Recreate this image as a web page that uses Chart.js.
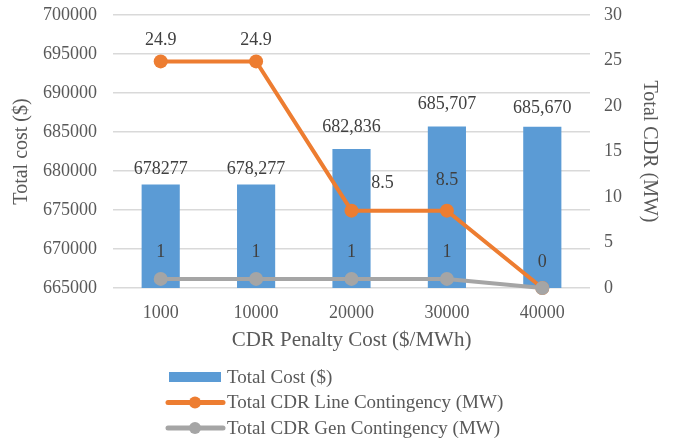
<!DOCTYPE html>
<html>
<head>
<meta charset="utf-8">
<script src="https://cdn.jsdelivr.net/npm/chart.js@4.4.0/dist/chart.umd.min.js"></script>
<style>
html,body{margin:0;padding:0;background:#fff;}
#wrap{width:683px;height:439px;position:relative;}
</style>
</head>
<body>
<div id="wrap"><canvas id="c" width="683" height="439"></canvas></div>
<script>
const categories = ['1000', '10000', '20000', '30000', '40000'];
const totalCost = [678277, 678277, 682836, 685707, 685670];
const totalCostLabels = ['678277', '678,277', '682,836', '685,707', '685,670'];
const cdrLine = [24.9, 24.9, 8.5, 8.5, 0];
const cdrLineLabels = ['24.9', '24.9', '8.5', '8.5', '0'];
const cdrGen = [1, 1, 1, 1, 0];
const cdrGenLabels = ['1', '1', '1', '1', ''];
const leftTicks = [665000, 670000, 675000, 680000, 685000, 690000, 695000, 700000];
const rightTicks = [0, 5, 10, 15, 20, 25, 30];

const FONT = '"Liberation Serif", "Times New Roman", Times, serif';
Chart.defaults.font.family = FONT;
const BLUE = '#5B9BD5', ORANGE = '#ED7D31', GRAY = '#A5A5A5';
const TXT = '#595959', LBL = '#404040';

// label offsets (style only)
const offBar = [[0,-15],[0,-15],[0,-22],[0,-22],[0,-19]];
const offLine = [[0,-21],[0,-21],[31,-27],[0,-30],[0,-26]];
const offGen = [[0,-27],[0,-27],[0,-27],[0,-27],[0,-27]];

const labelPlugin = {
  id: 'dataLabels',
  afterDatasetsDraw(chart) {
    const ctx = chart.ctx;
    ctx.save();
    ctx.font = '18px ' + FONT;
    ctx.fillStyle = LBL;
    ctx.textAlign = 'center';
    ctx.textBaseline = 'middle';
    const sets = [[0, totalCostLabels, offBar], [1, cdrLineLabels, offLine], [2, cdrGenLabels, offGen]];
    sets.forEach(([di, labels, offs]) => {
      const meta = chart.getDatasetMeta(di);
      meta.data.forEach((el, i) => {
        if (!labels[i]) return;
        ctx.fillText(labels[i], el.x + offs[i][0], el.y + offs[i][1]);
      });
    });
    ctx.restore();
  }
};

const legendPlugin = {
  id: 'customLegend',
  afterDraw(chart) {
    const ctx = chart.ctx;
    ctx.save();
    ctx.font = '19px ' + FONT;
    ctx.textBaseline = 'middle';
    ctx.textAlign = 'left';
    const x0 = 168, tx = 227;
    const rows = [377, 402.5, 428];
    const ds = chart.data.datasets;
    ctx.fillStyle = BLUE;
    ctx.fillRect(x0 + 1, rows[0] - 5, 52, 10);
    [[1, ORANGE], [2, GRAY]].forEach(([k, col]) => {
      const y = rows[k];
      ctx.strokeStyle = col;
      ctx.lineWidth = 5;
      ctx.lineCap = 'round';
      ctx.beginPath(); ctx.moveTo(x0, y); ctx.lineTo(x0 + 55, y); ctx.stroke();
      ctx.fillStyle = col;
      ctx.beginPath(); ctx.arc(x0 + 27, y, 6, 0, Math.PI * 2); ctx.fill();
    });
    ctx.fillStyle = TXT;
    ds.forEach((d, i) => ctx.fillText(d.label, tx, rows[i] + 1));
    ctx.restore();
  }
};

function fitV(w) {
  return function (s) { s.width = w; s.paddingTop = 0; s.paddingBottom = 0; };
}

new Chart(document.getElementById('c'), {
  type: 'bar',
  data: {
    labels: categories,
    datasets: [
      { type: 'bar', label: 'Total Cost ($)', data: totalCost, backgroundColor: BLUE, yAxisID: 'y', order: 3,
        categoryPercentage: 1, barPercentage: 0.4 },
      { type: 'line', label: 'Total CDR Line Contingency (MW)', data: cdrLine, borderColor: ORANGE, backgroundColor: ORANGE,
        borderWidth: 4, pointRadius: 7, pointHoverRadius: 7, pointBorderWidth: 0, yAxisID: 'y1', order: 2, tension: 0, clip: false },
      { type: 'line', label: 'Total CDR Gen Contingency (MW)', data: cdrGen, borderColor: GRAY, backgroundColor: GRAY,
        borderWidth: 4, pointRadius: 7, pointHoverRadius: 7, pointBorderWidth: 0, yAxisID: 'y1', order: 1, tension: 0, clip: false }
    ]
  },
  options: {
    responsive: false,
    animation: false,
    layout: { padding: { top: 15, bottom: 82, left: 0, right: 0 } },
    plugins: { legend: { display: false }, tooltip: { enabled: false } },
    scales: {
      x: {
        grid: { display: false },
        border: { display: false },
        ticks: { color: TXT, font: { family: FONT, size: 18 }, padding: 6 },
        title: { display: true, text: 'CDR Penalty Cost ($/MWh)', color: TXT, font: { family: FONT, size: 21 }, padding: { top: 0 } },
        afterFit(s) { s.height = 69; s.paddingLeft = 0; s.paddingRight = 0; }
      },
      y: {
        position: 'left',
        min: 665000, max: 700000,
        afterBuildTicks(s) { s.ticks = leftTicks.map(v => ({ value: v })); },
        grid: { color: '#D9D9D9', lineWidth: 1.5, drawTicks: false },
        border: { display: false },
        ticks: { color: TXT, font: { family: FONT, size: 18 }, padding: 16, callback: v => String(v) },
        title: { display: true, text: 'Total cost ($)', color: TXT, font: { family: FONT, size: 20 }, padding: { top: 10, bottom: 0 } },
        afterFit: fitV(113)
      },
      y1: {
        position: 'right',
        min: 0, max: 30,
        afterBuildTicks(s) { s.ticks = rightTicks.map(v => ({ value: v })); },
        grid: { display: false, drawTicks: false },
        border: { display: false },
        ticks: { color: TXT, font: { family: FONT, size: 18 }, padding: 14 },
        title: { display: true, text: 'Total CDR (MW)', color: TXT, font: { family: FONT, size: 20 }, padding: { top: 22, bottom: 0 } },
        afterFit: fitV(93)
      }
    }
  },
  plugins: [labelPlugin, legendPlugin]
});
</script>
</body>
</html>
